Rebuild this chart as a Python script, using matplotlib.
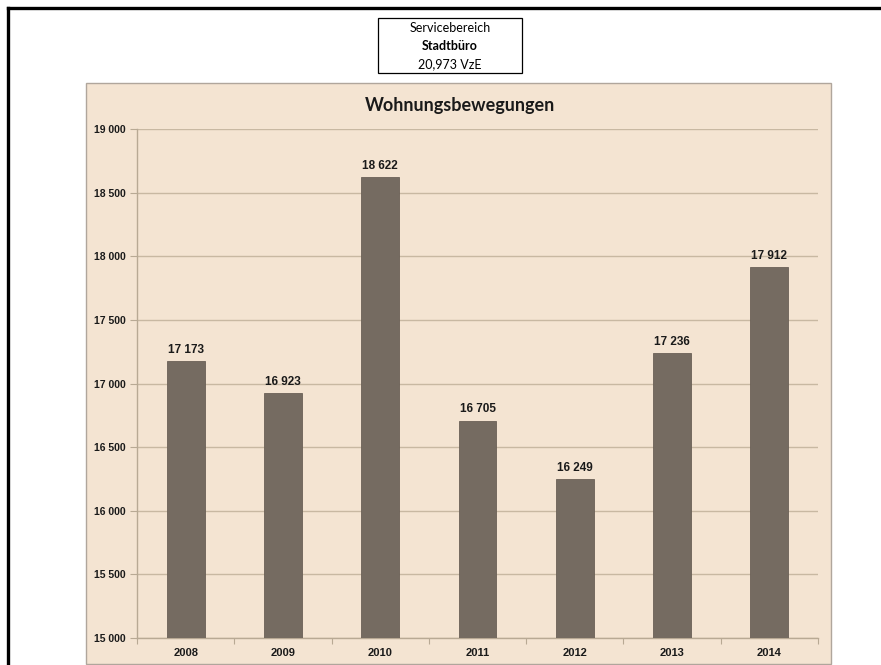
import matplotlib
matplotlib.use("Agg")
import matplotlib.pyplot as plt
from matplotlib.patches import Rectangle
from matplotlib.lines import Line2D
import numpy as np

years = ["2008", "2009", "2010", "2011", "2012", "2013", "2014"]
values = [17173, 16923, 18622, 16705, 16249, 17236, 17912]
y_ticks = [15000, 15500, 16000, 16500, 17000, 17500, 18000, 18500, 19000]
title = "Wohnungsbewegungen"
header_lines = ["Servicebereich", "Stadtbüro", "20,973 VzE"]

W, H = 881, 665
fig = plt.figure(figsize=(W / 100, H / 100), dpi=100)
fig.patch.set_facecolor("white")

def fx(px):
    return px / W

def fy(py):
    return 1 - py / H

# outer black border (left and top)
fig.add_artist(Line2D([fx(8), fx(8)], [fy(8), 0], color="black", lw=2.4, transform=fig.transFigure))
fig.add_artist(Line2D([fx(8), 1], [fy(8), fy(8)], color="black", lw=2.4, transform=fig.transFigure))

# chart panel
panel = Rectangle((fx(86), fy(664)), fx(831) - fx(86), fy(83) - fy(664),
                  transform=fig.transFigure, facecolor="#f4e4d2",
                  edgecolor="#b0a69c", lw=1.0, zorder=0)
fig.add_artist(panel)

# header box
hb = Rectangle((fx(378), fy(73)), fx(522) - fx(378), fy(18) - fy(73),
               transform=fig.transFigure, facecolor="white", edgecolor="black", lw=0.9)
fig.add_artist(hb)
hfont = ["Lato", "DejaVu Sans"]
fig.text(fx(450), fy(28), header_lines[0], ha="center", va="center", fontsize=9, family=hfont)
fig.text(fx(450), fy(46), header_lines[1], ha="center", va="center", fontsize=9, fontweight="bold", family=hfont)
fig.text(fx(450), fy(64), header_lines[2], ha="center", va="center", fontsize=9, family=hfont)

# title
fig.text(fx(460), fy(106), title, ha="center", va="center", fontsize=13,
         fontweight="bold", family=hfont, color="#1a1a1a")

ax = fig.add_axes([fx(137), fy(638), fx(818) - fx(137), fy(129) - fy(638)])
ax.set_facecolor("none")
x = np.arange(len(years))
ax.bar(x, values, width=0.39, color="#756b61", edgecolor="#6a6057", lw=0.6, zorder=3)
ax.set_xlim(-0.5, len(years) - 0.5)
ax.set_ylim(y_ticks[0], y_ticks[-1])
ax.set_yticks(y_ticks)
ax.set_yticklabels([f"{v:,}".replace(",", " ") for v in y_ticks])
ax.set_xticks(x)
ax.set_xticklabels(years)
ax.set_xticks(np.arange(-0.5, len(years)), minor=True)

for lab in ax.get_yticklabels():
    lab.set_fontsize(7.5)
for lab in ax.get_xticklabels():
    lab.set_fontsize(8)
for lab in ax.get_yticklabels() + ax.get_xticklabels():
    lab.set_fontfamily(["Liberation Sans", "DejaVu Sans"])
    lab.set_fontweight("bold")
    lab.set_color("#1a1a1a")

ax.tick_params(axis="y", length=5, width=0.8, color="#b8a994", pad=3)
ax.tick_params(axis="x", which="major", length=0, pad=7)
ax.tick_params(axis="x", which="minor", length=4, width=0.8, color="#b8a994")
ax.grid(axis="y", color="#c8b8a2", lw=1.0, zorder=1)
ax.set_axisbelow(True)
for s in ["top", "right"]:
    ax.spines[s].set_visible(False)
for s in ["left", "bottom"]:
    ax.spines[s].set_color("#b8a994")
    ax.spines[s].set_linewidth(1.0)

for xi, v in zip(x, values):
    ax.annotate(f"{v:,}".replace(",", " "), (xi, v), xytext=(0, 4), textcoords="offset points",
                ha="center", va="bottom", fontsize=8.5, fontweight="bold",
                family=["Liberation Sans", "DejaVu Sans"], color="#1a1a1a", zorder=4)

fig.savefig("out.png", dpi=100, facecolor="white")
